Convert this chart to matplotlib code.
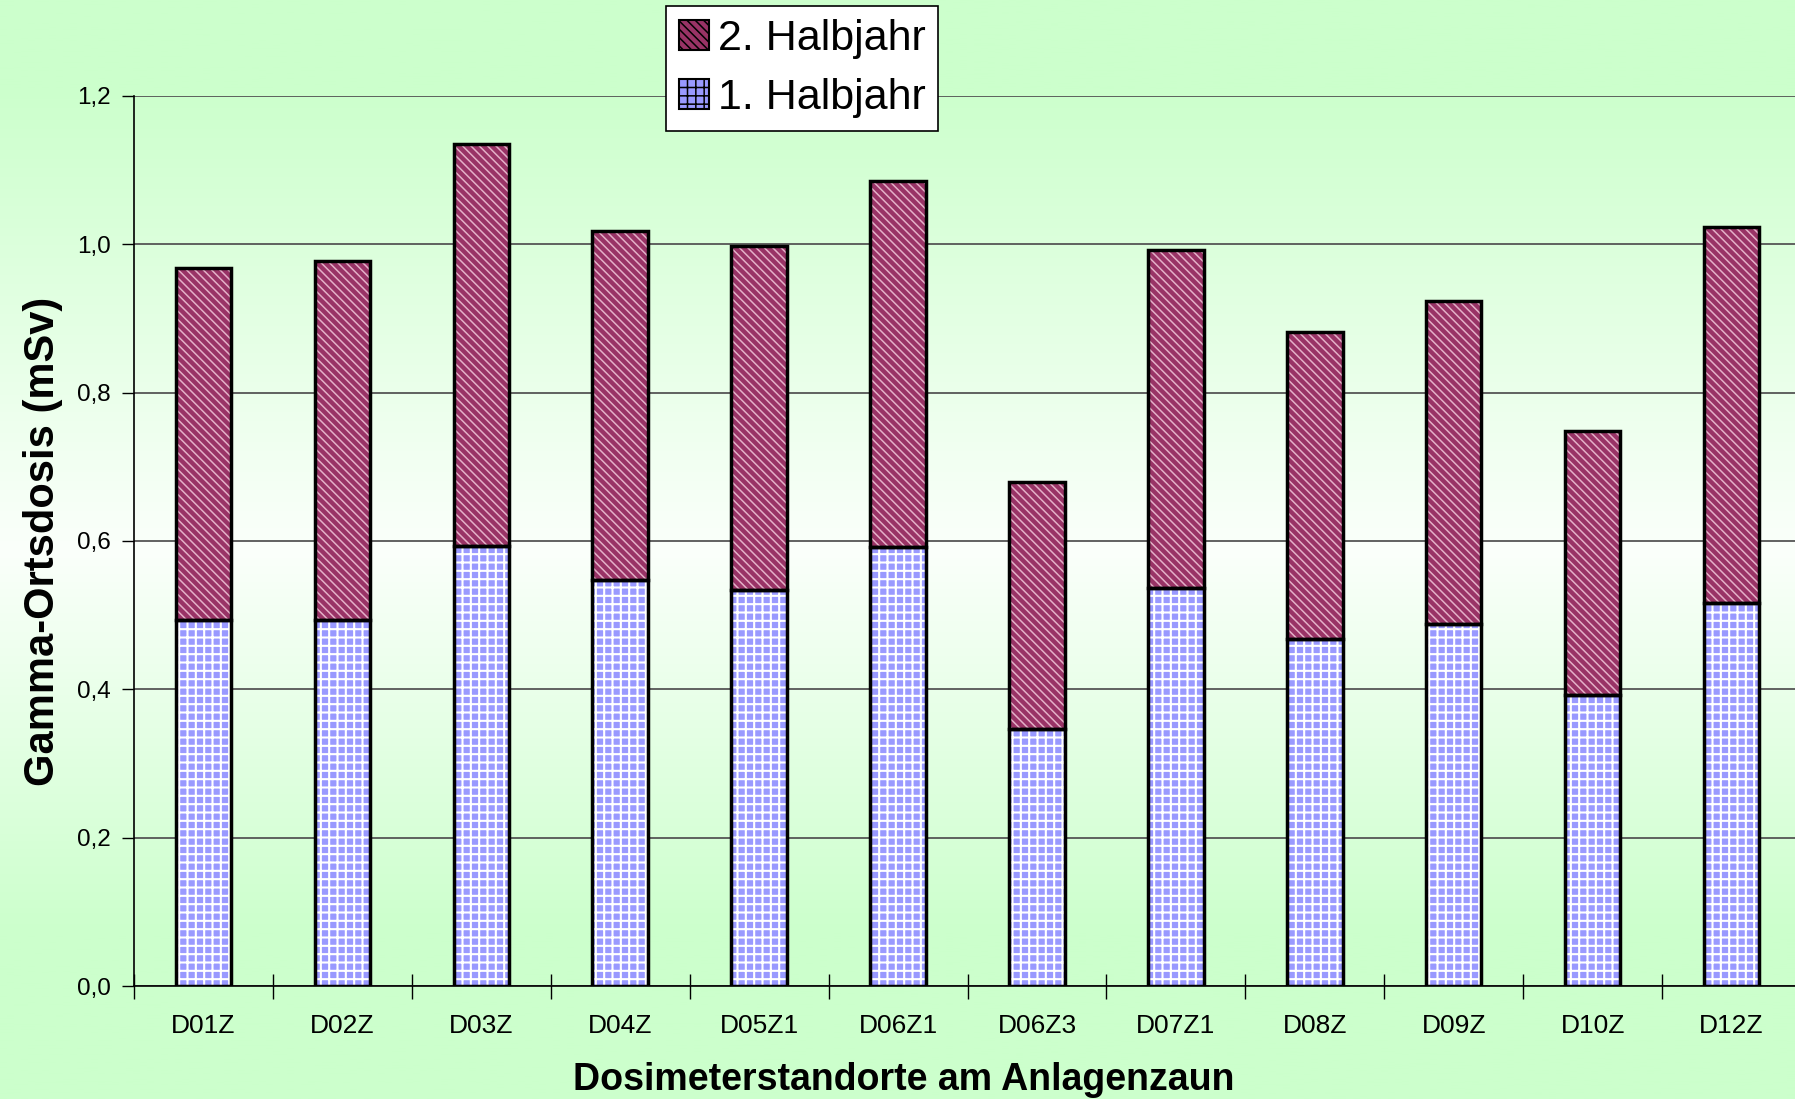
import numpy as np
import matplotlib
matplotlib.use("Agg")
import matplotlib.pyplot as plt
from matplotlib.colors import LinearSegmentedColormap
from matplotlib.patches import Patch

plt.rcParams['font.family'] = ['Liberation Sans', 'DejaVu Sans']

standorte = ["D01Z", "D02Z", "D03Z", "D04Z", "D05Z1", "D06Z1",
             "D06Z3", "D07Z1", "D08Z", "D09Z", "D10Z", "D12Z"]
halbjahr1 = [0.494, 0.494, 0.593, 0.548, 0.534, 0.592,
             0.346, 0.537, 0.468, 0.488, 0.392, 0.517]
gesamt = [0.968, 0.978, 1.135, 1.018, 0.998, 1.086,
          0.680, 0.992, 0.882, 0.924, 0.748, 1.024]
halbjahr2 = [g - h for g, h in zip(gesamt, halbjahr1)]

fig = plt.figure(figsize=(17.95, 10.99), dpi=100)

# hintergrund: vertikaler verlauf gruen -> weiss -> gruen
bg = fig.add_axes([0, 0, 1, 1], zorder=-10)
cmap = LinearSegmentedColormap.from_list(
    "bg", [(0.0, "#ccffcc"), (0.08, "#ccffcc"), (0.5, "#fbfffb"),
           (0.85, "#ccffcc"), (1.0, "#ccffcc")])
grad = np.linspace(0, 1, 400).reshape(-1, 1)
bg.imshow(grad, aspect="auto", cmap=cmap, extent=[0, 1, 0, 1])
bg.set_axis_off()

ax = fig.add_axes([134 / 1795, 1 - 986 / 1099, (1801 - 134) / 1795, (986 - 96) / 1099])
ax.patch.set_alpha(0)

x = np.arange(len(standorte))
w = 0.40
# fuellung mit weissem muster, danach schwarzer rand
plt.rcParams['hatch.linewidth'] = 1.5
ax.bar(x, halbjahr1, w, color="#9999ff", edgecolor="white", hatch="++",
       linewidth=0, zorder=3)
plt.rcParams['hatch.linewidth'] = 1.1
ax.bar(x, halbjahr2, w, bottom=halbjahr1, color="#993366", edgecolor="#e4b0c8",
       hatch="\\\\\\\\", linewidth=0, zorder=3)
ax.bar(x, halbjahr1, w, fill=False, edgecolor="black", linewidth=2.5, zorder=4)
ax.bar(x, halbjahr2, w, bottom=halbjahr1, fill=False, edgecolor="black",
       linewidth=2.5, zorder=4)

ax.set_xlim(-0.5, len(standorte) - 0.5)
ax.set_ylim(0, 1.2)
ax.set_yticks(np.arange(0, 1.21, 0.2))
ax.set_yticklabels([f"{v:.1f}".replace(".", ",") for v in np.arange(0, 1.21, 0.2)])
ax.yaxis.grid(True, color="#555555", linewidth=1.3, zorder=1)
ax.set_axisbelow(True)

ax.set_xticks(x)
ax.set_xticklabels(standorte)
ax.set_xticks(np.arange(-0.5, len(standorte), 1), minor=True)
ax.tick_params(axis="x", which="major", length=0, pad=20, labelsize=19)
ax.tick_params(axis="x", which="minor", direction="inout", length=18, width=1)
ax.tick_params(axis="y", direction="out", length=9, width=1, labelsize=17.5, pad=8)

for s in ["top", "right"]:
    ax.spines[s].set_visible(False)
ax.spines["left"].set_linewidth(1.2)
ax.spines["bottom"].set_linewidth(1.2)

ax.set_xlabel("Dosimeterstandorte am Anlagenzaun", fontsize=27, fontweight="bold")
ax.xaxis.set_label_coords(0.462, -0.085)
ax.set_ylabel("Gamma-Ortsdosis (mSv)", fontsize=30, fontweight="bold", labelpad=10)

# legende
plt.rcParams['hatch.linewidth'] = 1.1
h2 = Patch(facecolor="#993366", edgecolor="black", hatch="\\\\\\\\", linewidth=1.5)
h1 = Patch(facecolor="#9999ff", edgecolor="black", hatch="++", linewidth=1.5)
leg = fig.legend([h2, h1], ["2. Halbjahr", "1. Halbjahr"], loc="upper left",
                 bbox_to_anchor=(666 / 1795, 1 - 6 / 1099), fontsize=31,
                 frameon=True, fancybox=False, edgecolor="black", framealpha=1,
                 handlelength=0.7, handleheight=0.7, handletextpad=0.2,
                 borderpad=0.3, labelspacing=0.45, borderaxespad=0)
leg.get_frame().set_linewidth(1.2)

fig.savefig("out.png", dpi=100)
